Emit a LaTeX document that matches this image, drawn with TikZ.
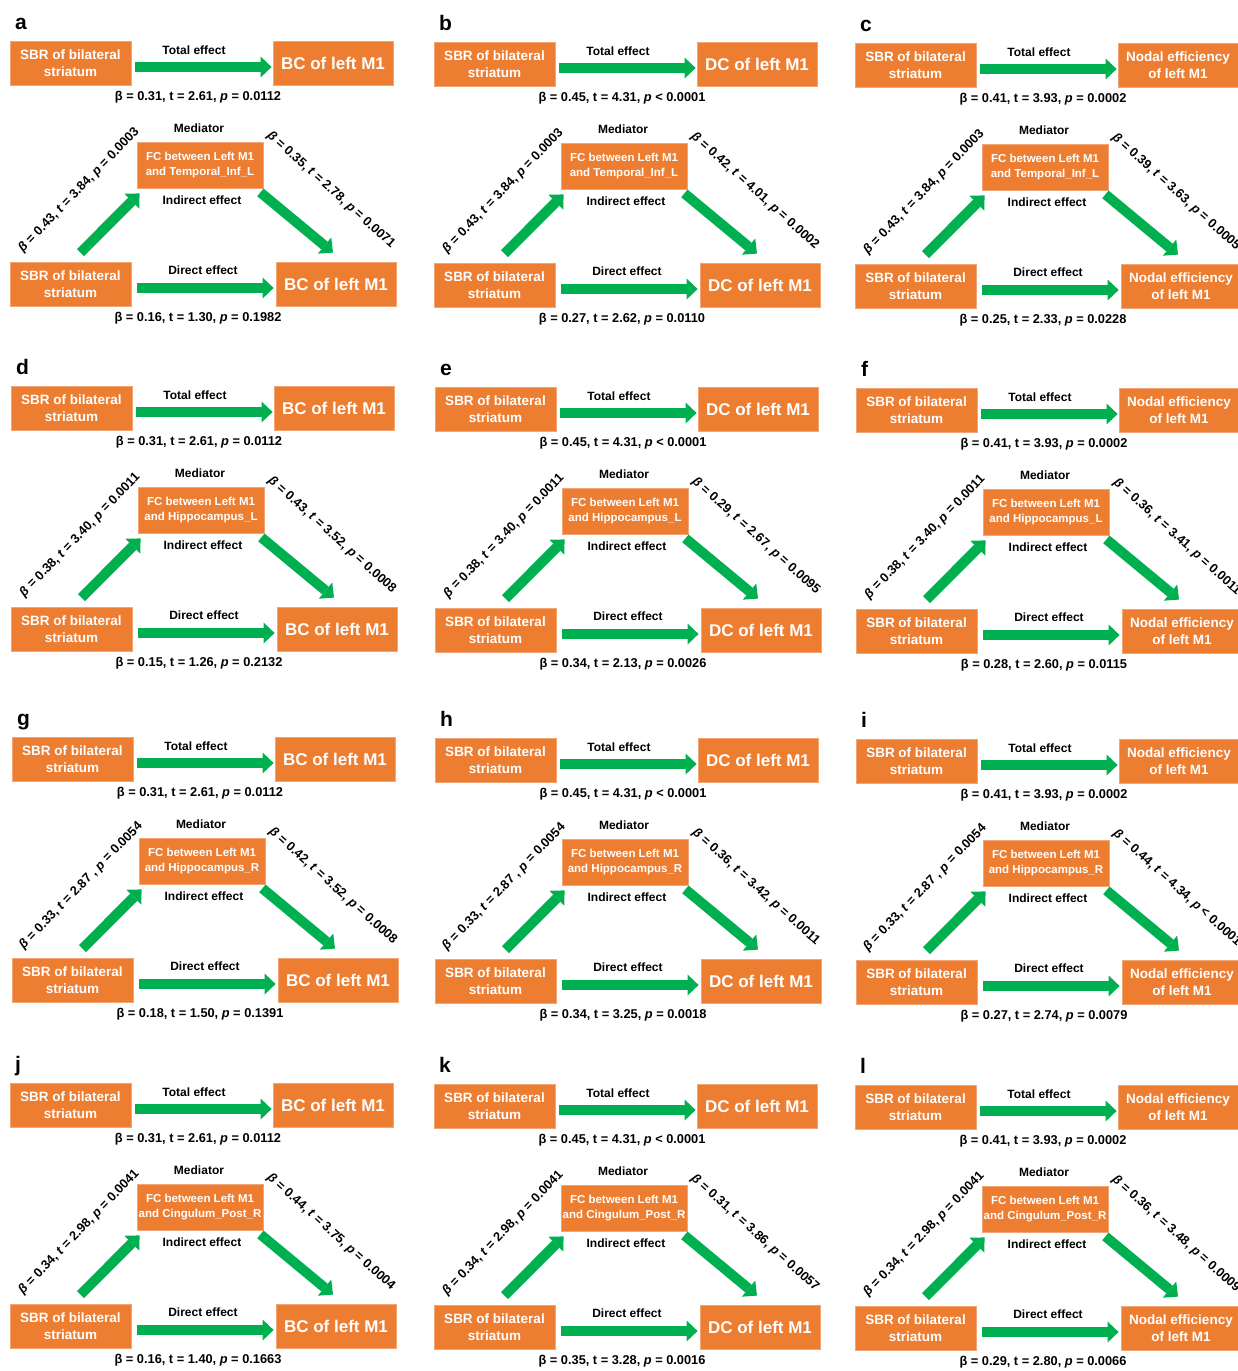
\documentclass[tikz,border=0pt]{standalone}
\usepackage{fontspec}
\setmainfont{Liberation Sans}
\usetikzlibrary{arrows.meta}
\definecolor{boxorange}{HTML}{ED7D31}
\definecolor{boxedge}{HTML}{F2A675}
\definecolor{arrowgreen}{HTML}{00B050}
\tikzset{
  box/.style={fill=boxorange, draw=boxedge, line width=0.8pt, text=white, align=center,
    font=\bfseries\fontsize{13.5}{16.5}\selectfont, inner sep=1pt,
    minimum width=121pt, minimum height=44pt},
  medbox/.style={box, font=\bfseries\fontsize{11.5}{15}\selectfont, minimum width=126pt, minimum height=46pt},
  lab/.style={font=\bfseries\fontsize{12}{14}\selectfont, inner sep=0pt, text=black},
  stat/.style={font=\bfseries\fontsize{12.8}{15}\selectfont, inner sep=0pt, text=black},
  lettr/.style={font=\bfseries\fontsize{21}{24}\selectfont, inner sep=0pt, anchor=base west},
  bigarrow/.style={draw=arrowgreen, line width=10pt,
    -{Triangle[length=11pt,width=21pt,line width=0pt]}},
}
\newcommand\oBC{{\fontsize{17}{20}\selectfont BC of left M1}}
\newcommand\oDC{{\fontsize{17}{20}\selectfont DC of left M1}}
\newcommand\oNE{Nodal efficiency\\of left M1}
\newcommand\hst[3]{β = #1, t = #2, \textit{p} #3}
\newcommand\dst[3]{\textit{β} = #1, \textit{t} = #2, \textit{p} #3}
\newcommand\mpanel[9]{%
\begin{scope}[shift={#2}]
  \node[lettr] (#1-let) at (15,29) {#3};
  \node[box] (#1-xt) at (70.5,63) {SBR of bilateral\\striatum};
  \node[box, minimum width=120pt] (#1-yt) at (333,63) {#4};
  \node[lab] (#1-tl) at (194,50) {Total effect};
  \node[stat] (#1-ts) at (198,97) {#6};
  \node[lab] (#1-ml) at (199,128) {Mediator};
  \node[medbox] (#1-m) at (200,165) {FC between Left M1\\and #5};
  \node[lab] (#1-il) at (202,200) {Indirect effect};
  \node[box] (#1-xb) at (70.5,284) {SBR of bilateral\\striatum};
  \node[box, minimum width=120pt] (#1-yb) at (336,284) {#4};
  \node[lab] (#1-dl) at (203,270) {Direct effect};
  \node[stat] (#1-ds) at (198,318) {#9};
  \draw[bigarrow, shorten <=4pt, shorten >=1pt] ([yshift=-4pt]#1-xt.east) -- ([yshift=-4pt]#1-yt.west);
  \draw[bigarrow, shorten <=6pt, shorten >=2pt] ([yshift=-4pt]#1-xb.east) -- ([yshift=-4pt]#1-yb.west);
  \draw[bigarrow] ([shift={(10,-9)}]#1-xb.north) -- ([shift={(3,5)}]#1-m.south west);
  \draw[bigarrow] ([shift={(-3,4)}]#1-m.south east) -- ([shift={(-3,-9)}]#1-yb.north);
  \node[stat, rotate=46] (#1-al) at (79,190) {#7};
  \node[stat, rotate=-42] (#1-bl) at (331,190) {#8};
\end{scope}}
\begin{document}
\begin{tikzpicture}[x=1pt, y={(0pt,-1pt)}]
\fill[white] (0,0) rectangle (1238,1371);
\useasboundingbox (0,0) rectangle (1238,1371);
\mpanel{a}{(0,0)}{a}{\oBC}{Temporal\_Inf\_L}{\hst{0.31}{2.61}{= 0.0112}}{\dst{0.43}{3.84}{= 0.0003}}{\dst{0.35}{2.78}{= 0.0071}}{\hst{0.16}{1.30}{= 0.1982}}
\mpanel{b}{(424,1)}{b}{\oDC}{Temporal\_Inf\_L}{\hst{0.45}{4.31}{< 0.0001}}{\dst{0.43}{3.84}{= 0.0003}}{\dst{0.42}{4.01}{= 0.0002}}{\hst{0.27}{2.62}{= 0.0110}}
\mpanel{c}{(845,2)}{c}{\oNE}{Temporal\_Inf\_L}{\hst{0.41}{3.93}{= 0.0002}}{\dst{0.43}{3.84}{= 0.0003}}{\dst{0.39}{3.63}{= 0.0005}}{\hst{0.25}{2.33}{= 0.0228}}
\mpanel{d}{(1,345)}{d}{\oBC}{Hippocampus\_L}{\hst{0.31}{2.61}{= 0.0112}}{\dst{0.38}{3.40}{= 0.0011}}{\dst{0.43}{3.52}{= 0.0008}}{\hst{0.15}{1.26}{= 0.2132}}
\mpanel{e}{(425,346)}{e}{\oDC}{Hippocampus\_L}{\hst{0.45}{4.31}{< 0.0001}}{\dst{0.38}{3.40}{= 0.0011}}{\dst{0.29}{2.67}{= 0.0095}}{\hst{0.34}{2.13}{= 0.0026}}
\mpanel{f}{(846,347)}{f}{\oNE}{Hippocampus\_L}{\hst{0.41}{3.93}{= 0.0002}}{\dst{0.38}{3.40}{= 0.0011}}{\dst{0.36}{3.41}{= 0.0011}}{\hst{0.28}{2.60}{= 0.0115}}
\mpanel{g}{(2,696)}{g}{\oBC}{Hippocampus\_R}{\hst{0.31}{2.61}{= 0.0112}}{\dst{0.33}{2.87 }{= 0.0054}}{\dst{0.42}{3.52}{= 0.0008}}{\hst{0.18}{1.50}{= 0.1391}}
\mpanel{h}{(425,697)}{h}{\oDC}{Hippocampus\_R}{\hst{0.45}{4.31}{< 0.0001}}{\dst{0.33}{2.87 }{= 0.0054}}{\dst{0.36}{3.42}{= 0.0011}}{\hst{0.34}{3.25}{= 0.0018}}
\mpanel{i}{(846,698)}{i}{\oNE}{Hippocampus\_R}{\hst{0.41}{3.93}{= 0.0002}}{\dst{0.33}{2.87 }{= 0.0054}}{\dst{0.44}{4.34}{< 0.0001}}{\hst{0.27}{2.74}{= 0.0079}}
\mpanel{j}{(0,1042)}{j}{\oBC}{Cingulum\_Post\_R}{\hst{0.31}{2.61}{= 0.0112}}{\dst{0.34}{2.98}{= 0.0041}}{\dst{0.44}{3.75}{= 0.0004}}{\hst{0.16}{1.40}{= 0.1663}}
\mpanel{k}{(424,1043)}{k}{\oDC}{Cingulum\_Post\_R}{\hst{0.45}{4.31}{< 0.0001}}{\dst{0.34}{2.98}{= 0.0041}}{\dst{0.31}{3.86}{= 0.0057}}{\hst{0.35}{3.28}{= 0.0016}}
\mpanel{l}{(845,1044)}{l}{\oNE}{Cingulum\_Post\_R}{\hst{0.41}{3.93}{= 0.0002}}{\dst{0.34}{2.98}{= 0.0041}}{\dst{0.36}{3.48}{= 0.0009}}{\hst{0.29}{2.80}{= 0.0066}}
\end{tikzpicture}
\end{document}
